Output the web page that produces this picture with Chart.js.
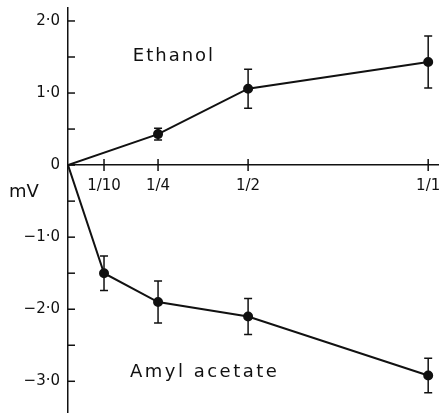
<!DOCTYPE html>
<html>
<head>
<meta charset="utf-8">
<script src="https://cdn.jsdelivr.net/npm/chart.js@4.4.0/dist/chart.umd.min.js"></script>
<style>
  html, body { margin: 0; padding: 0; background: #fff; }
  #wrap { width: 439px; height: 413px; position: relative; }
</style>
</head>
<body>
<div id="wrap"><canvas id="mvChart"></canvas></div>
<script>
// dilution (fraction of saturated vapour) vs response in mV
const ethanolX = [0, 0.25, 0.5, 1.0];
const ethanolY = [0, 0.43, 1.06, 1.43];
const ethanolErr = [0, 0.08, 0.27, 0.36];

const amylX = [0, 0.1, 0.25, 0.5, 1.0];
const amylY = [0, -1.50, -1.90, -2.10, -2.92];
const amylErr = [0, 0.24, 0.29, 0.25, 0.24];

const xTicks = [0.1, 0.25, 0.5, 1.0];
const xTickLabels = ['1/10', '1/4', '1/2', '1/1'];
const yTicks = [-3, -2.5, -2, -1.5, -1, -0.5, 0, 0.5, 1, 1.5, 2];
const yTickLabels = ['−3·0', '', '−2·0', '', '−1·0', '', '0', '', '1·0', '', '2·0'];

const ink = '#111';
const tickFont = { family: '"DejaVu Sans", sans-serif', size: 15 };

const toPoints = (xs, ys) => xs.map((x, i) => ({ x: x, y: ys[i] }));
// no dot drawn at the origin
const dotSizes = xs => xs.map(x => (x === 0 ? 0 : 4));

// stop chart.js from shrinking the plot to make room for edge labels
const noPad = s => { s.paddingTop = 0; s.paddingBottom = 0; s.paddingLeft = 0; s.paddingRight = 0; };

// tick marks, error bars and the curve labels
const extras = {
  id: 'extras',
  afterDatasetsDraw(chart) {
    const { ctx, scales: { x, y } } = chart;
    const x0 = x.getPixelForValue(0);
    const y0 = y.getPixelForValue(0);
    ctx.save();
    ctx.strokeStyle = ink;
    ctx.lineWidth = 1.5;

    yTicks.forEach(v => {
      const py = y.getPixelForValue(v);
      ctx.beginPath();
      ctx.moveTo(x0, py);
      ctx.lineTo(x0 + 7, py);
      ctx.stroke();
    });
    xTicks.forEach(v => {
      const px = x.getPixelForValue(v);
      ctx.beginPath();
      ctx.moveTo(px, y0 - 6);
      ctx.lineTo(px, y0 + 6);
      ctx.stroke();
    });

    chart.data.datasets.forEach(ds => {
      ds.data.forEach((p, i) => {
        const e = ds.errors[i];
        if (!e) return;
        const px = x.getPixelForValue(p.x);
        const top = y.getPixelForValue(p.y + e);
        const bot = y.getPixelForValue(p.y - e);
        ctx.beginPath();
        ctx.moveTo(px, top);
        ctx.lineTo(px, bot);
        ctx.moveTo(px - 4, top);
        ctx.lineTo(px + 4, top);
        ctx.moveTo(px - 4, bot);
        ctx.lineTo(px + 4, bot);
        ctx.stroke();
      });
    });

    ctx.fillStyle = ink;
    ctx.font = '18px "DejaVu Sans", sans-serif';
    ctx.textBaseline = 'middle';
    ctx.textAlign = 'left';
    ctx.letterSpacing = '2px';
    ctx.fillText(chart.data.datasets[0].label, x.getPixelForValue(0.18), y.getPixelForValue(1.51));
    ctx.letterSpacing = '2.5px';
    ctx.fillText(chart.data.datasets[1].label, x.getPixelForValue(0.172), y.getPixelForValue(-2.875));
    ctx.letterSpacing = '0px';
    ctx.fillText('mV', chart.chartArea.left - 59, y.getPixelForValue(-0.38));
    ctx.restore();
  }
};

new Chart(document.getElementById('mvChart'), {
  type: 'scatter',
  data: {
    datasets: [
      {
        label: 'Ethanol',
        data: toPoints(ethanolX, ethanolY),
        errors: ethanolErr,
        showLine: true,
        borderColor: ink,
        backgroundColor: ink,
        borderWidth: 2,
        pointRadius: dotSizes(ethanolX),
        tension: 0
      },
      {
        label: 'Amyl acetate',
        data: toPoints(amylX, amylY),
        errors: amylErr,
        showLine: true,
        borderColor: ink,
        backgroundColor: ink,
        borderWidth: 2,
        pointRadius: dotSizes(amylX),
        tension: 0
      }
    ]
  },
  options: {
    responsive: true,
    maintainAspectRatio: false,
    animation: false,
    layout: { autoPadding: false, padding: { left: 6, top: 8, right: 0, bottom: 0 } },
    plugins: {
      legend: { display: false },
      tooltip: { enabled: false }
    },
    scales: {
      x: {
        type: 'linear',
        min: 0,
        max: 1.03,
        position: { y: 0 },
        afterBuildTicks: s => { s.ticks = xTicks.map(v => ({ value: v })); },
        afterFit: s => { noPad(s); s.height = 0; },
        ticks: {
          callback: (v, i) => xTickLabels[i],
          color: ink,
          font: tickFont,
          padding: 12,
          maxRotation: 0,
          autoSkip: false
        },
        grid: { display: false, drawTicks: false },
        border: { color: ink, width: 1.5 }
      },
      y: {
        type: 'linear',
        min: -3.44,
        max: 2.18,
        position: 'left',
        afterBuildTicks: s => { s.ticks = yTicks.map(v => ({ value: v })); },
        afterFit: s => { noPad(s); s.width = 62; },
        ticks: {
          callback: (v, i) => yTickLabels[i],
          color: ink,
          font: tickFont,
          padding: 8,
          autoSkip: false
        },
        grid: { display: false, drawTicks: false },
        border: { color: ink, width: 1.5 }
      }
    }
  },
  plugins: [extras]
});
</script>
</body>
</html>
